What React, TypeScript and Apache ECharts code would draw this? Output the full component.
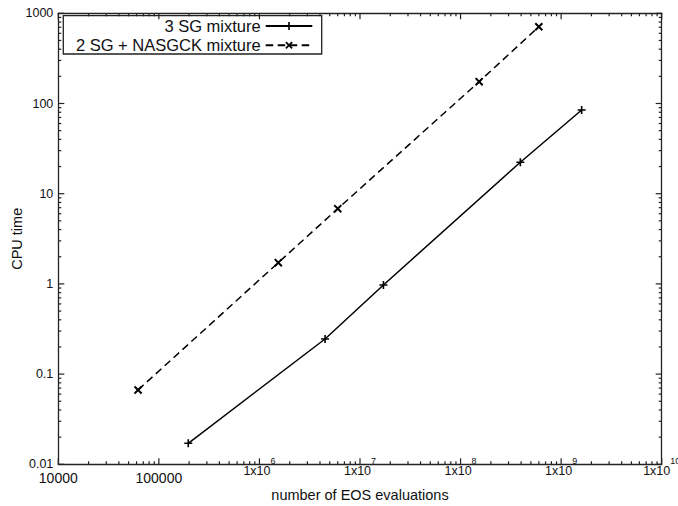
import React, { useEffect, useRef } from "react";
import * as echarts from "echarts";

// ---- data ----
const xTickValues = [1e4, 1e5, 1e6, 1e7, 1e8, 1e9, 1e10];
const xTickLabels = ["10000", "100000", "1x10^6", "1x10^7", "1x10^8", "1x10^9", "1x10^10"];
const yTickValues = [0.01, 0.1, 1, 10, 100, 1000];
const yTickLabels = ["0.01", "0.1", "1", "10", "100", "1000"];

const seriesNames = ["3 SG mixture", "2 SG + NASGCK mixture"];
const sg3Evals = [196000, 4.49e6, 1.71e7, 3.93e8, 1.6e9];
const sg3Cpu = [0.0171, 0.245, 0.973, 22.3, 84.7];
const nasEvals = [62100, 1.54e6, 6.01e6, 1.53e8, 6.0e8];
const nasCpu = [0.0667, 1.72, 6.82, 174.6, 710];

const xDecades = [4, 5, 6, 7, 8, 9];
const yDecades = [-2, -1, 0, 1, 2];
const minorMultipliers = [2, 3, 4, 5, 6, 7, 8, 9];

const X_MIN = xTickValues[0];
const X_MAX = xTickValues[xTickValues.length - 1];
const Y_MIN = yTickValues[0];
const Y_MAX = yTickValues[yTickValues.length - 1];

const FONT = "'Liberation Sans', Arial, Helvetica, sans-serif";
const INK = "#111";
const FRAME = "#222";
const TICK = "#222";
const PLUS = "path://M4,0h2v10h-2zM0,4h10v2h-10z";

function minorTicks(decades: number[]) {
  const out: number[] = [];
  decades.forEach((d) => minorMultipliers.forEach((m) => out.push(Number((m * Math.pow(10, d)).toPrecision(6)))));
  return out;
}

function idxOf(values: number[], v: number) {
  const lv = Math.log10(v);
  let best = -1;
  let bd = 0.01;
  values.forEach((t, i) => {
    const d = Math.abs(Math.log10(t) - lv);
    if (d < bd) {
      bd = d;
      best = i;
    }
  });
  return best;
}

export default function App() {
  const ref = useRef<HTMLDivElement>(null);

  useEffect(() => {
    if (!ref.current) return;
    const chart = echarts.init(ref.current, null, { renderer: "svg" });
    const xMinor = minorTicks(xDecades);
    const yMinor = minorTicks(yDecades);

    const axisLine = { show: true, lineStyle: { color: FRAME, width: 1.3 } };
    const baseX = { type: "log" as const, min: X_MIN, max: X_MAX, splitLine: { show: false }, axisTick: { show: false } };
    const baseY = { type: "log" as const, min: Y_MIN, max: Y_MAX, splitLine: { show: false }, axisTick: { show: false } };

    const xLabel = (v: number) => {
      const i = idxOf(xTickValues, v);
      return i < 0 ? "" : xTickLabels[i];
    };

    const tickStyle = { stroke: TICK, lineWidth: 1.2 };
    const xTickSeries = (vals: number[], len: number) => ({
      type: "custom",
      xAxisIndex: 0,
      yAxisIndex: 0,
      data: vals.map((v) => [v, Y_MIN]),
      renderItem: (_p: any, api: any) => {
        const v = api.value(0);
        const b = api.coord([v, Y_MIN]);
        const t = api.coord([v, Y_MAX]);
        return {
          type: "group",
          children: [
            { type: "line", shape: { x1: b[0], y1: b[1], x2: b[0], y2: b[1] - len }, style: tickStyle },
            { type: "line", shape: { x1: t[0], y1: t[1], x2: t[0], y2: t[1] + len }, style: tickStyle },
          ],
        };
      },
    });
    const yTickSeries = (vals: number[], len: number) => ({
      type: "custom",
      xAxisIndex: 0,
      yAxisIndex: 0,
      data: vals.map((v) => [X_MIN, v]),
      renderItem: (_p: any, api: any) => {
        const v = api.value(1);
        const l = api.coord([X_MIN, v]);
        const r = api.coord([X_MAX, v]);
        return {
          type: "group",
          children: [
            { type: "line", shape: { x1: l[0], y1: l[1], x2: l[0] + len, y2: l[1] }, style: tickStyle },
            { type: "line", shape: { x1: r[0], y1: r[1], x2: r[0] - len, y2: r[1] }, style: tickStyle },
          ],
        };
      },
    });

    const option: any = {
      animation: false,
      backgroundColor: "#fff",
      grid: { left: 58.3, right: 16.3, top: 13.3, bottom: 41.7, containLabel: false, outerBoundsMode: "none" },
      xAxis: [
        {
          ...baseX,
          position: "bottom",
          axisLine,
          axisLabel: {
            show: true,
            margin: 7,
            color: INK,
            fontSize: 14,
            fontFamily: FONT,
            formatter: (v: number) => {
              const s = xLabel(v);
              return s.indexOf("^") >= 0 ? "" : s;
            },
          },
          name: "number of EOS evaluations",
          nameLocation: "middle",
          nameGap: 23.4,
          nameMoveOverlap: false,
          nameTextStyle: { fontSize: 14.5, color: INK, fontFamily: FONT },
        },
        {
          ...baseX,
          position: "bottom",
          axisLine: { show: false },
          axisLabel: {
            show: true,
            margin: -7.5,
            color: INK,
            fontFamily: FONT,
            formatter: (v: number) => {
              const s = xLabel(v);
              if (s.indexOf("^") < 0) return "";
              const [b, e] = s.split("^");
              return `{b|${b}}{sup|${e}}`;
            },
            rich: {
              b: { fontSize: 12.5, verticalAlign: "top", padding: [7.5, 0, 0, 0], color: INK, fontFamily: FONT },
              sup: { fontSize: 9, verticalAlign: "top", color: INK, fontFamily: FONT },
            },
          },
        },
        { ...baseX, position: "top", axisLine, axisLabel: { show: false } },
      ],
      yAxis: [
        {
          ...baseY,
          position: "left",
          axisLine,
          axisLabel: {
            show: true,
            margin: 5,
            color: INK,
            fontSize: 12.5,
            fontFamily: FONT,
            formatter: (v: number) => {
              const i = idxOf(yTickValues, v);
              return i < 0 ? "" : yTickLabels[i];
            },
          },
          name: "CPU time",
          nameLocation: "middle",
          nameGap: 34,
          nameMoveOverlap: false,
          nameTextStyle: { fontSize: 14.5, color: INK, fontFamily: FONT },
        },
        { ...baseY, position: "right", axisLine, axisLabel: { show: false } },
      ],
      legend: [
        {
          data: [seriesNames[0]],
          right: 364.7,
          top: 17.5,
          align: "right",
          orient: "horizontal",
          itemWidth: 46.6,
          itemHeight: 10,
          padding: 0,
          selectedMode: false,
          textStyle: { fontSize: 16.5, color: INK, fontFamily: FONT },
        },
        {
          data: [seriesNames[1]],
          right: 364.7,
          top: 36.8,
          align: "right",
          orient: "horizontal",
          itemWidth: 46.6,
          itemHeight: 11,
          padding: 0,
          selectedMode: false,
          textStyle: { fontSize: 16.5, color: INK, fontFamily: FONT },
        },
      ],
      graphic: [
        {
          type: "rect",
          shape: { x: 63.3, y: 15.7, width: 258.4, height: 38.3 },
          style: { fill: "none", stroke: FRAME, lineWidth: 1.3 },
          silent: true,
        },
      ],
      series: [
        {
          name: seriesNames[0],
          type: "line",
          data: sg3Evals.map((x, i) => [x, sg3Cpu[i]]),
          symbol: PLUS,
          symbolSize: 8,
          showAllSymbol: true,
          itemStyle: { color: "#000" },
          lineStyle: { color: "#000", width: 1.5 },
        },
        {
          name: seriesNames[1],
          type: "line",
          data: nasEvals.map((x, i) => [x, nasCpu[i]]),
          symbol: PLUS,
          symbolSize: 10,
          symbolRotate: 45,
          showAllSymbol: true,
          itemStyle: { color: "#000" },
          lineStyle: { color: "#000", width: 1.5, type: [7.5, 4.5] },
        },
        xTickSeries(xTickValues, 6),
        xTickSeries(xMinor, 3),
        yTickSeries(yTickValues, 6),
        yTickSeries(yMinor, 3),
      ],
    };

    chart.setOption(option);
    return () => chart.dispose();
  }, []);

  return (
    <div
      ref={ref}
      style={{ position: "fixed", left: 0, top: 0, width: 678, height: 506, background: "#fff" }}
    />
  );
}
